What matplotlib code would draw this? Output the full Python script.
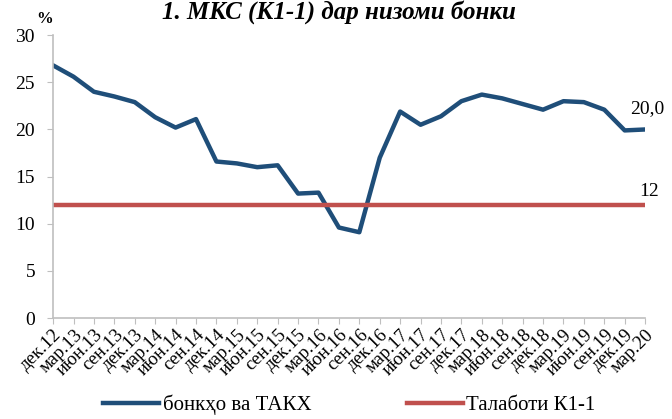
import numpy as np
import matplotlib
matplotlib.use('Agg')
import matplotlib.pyplot as plt

plt.rcParams['font.family'] = ['Liberation Serif', 'DejaVu Serif']

# quarter labels, dec 2012 .. mar 2020
quarters = ['дек.12', 'мар.13', 'июн.13', 'сен.13', 'дек.13', 'мар.14', 'июн.14', 'сен.14',
            'дек.14', 'мар.15', 'июн.15', 'сен.15', 'дек.15', 'мар.16', 'июн.16', 'сен.16',
            'дек.16', 'мар.17', 'июн.17', 'сен.17', 'дек.17', 'мар.18', 'июн.18', 'сен.18',
            'дек.18', 'мар.19', 'июн.19', 'сен.19', 'дек.19', 'мар.20']
banks = [26.8, 25.6, 24.0, 23.5, 22.9, 21.3, 20.2, 21.1,
         16.6, 16.4, 16.0, 16.2, 13.2, 13.3, 9.6, 9.1,
         17.0, 21.9, 20.5, 21.4, 23.0, 23.7, 23.3, 22.7,
         22.1, 23.0, 22.9, 22.1, 19.9, 20.0]
requirement = [12] * len(quarters)

blue = '#1F4E79'
red = '#C0504D'
grey = '#BFBFBF'

fig = plt.figure(figsize=(6.72, 4.19), dpi=100)
ax = fig.add_axes([0.079, 0.241, 0.881, 0.675])

x = np.arange(len(quarters))
ax.plot(x, banks, color=blue, lw=3.2, solid_joinstyle='round', label='бонкҳо ва ТАКХ')
ax.plot(x, requirement, color=red, lw=3.2, label='Талаботи К1-1')

ax.text(x[-1] + 0.1, banks[-1] + 1.3, '20,0', fontsize=14, ha='center', va='bottom')
ax.text(x[-1] + 0.2, requirement[-1] + 0.5, '12', fontsize=14, ha='center', va='bottom')

ax.set_xlim(0, len(quarters) - 1)
ax.set_ylim(0, 30)
ax.set_yticks(range(0, 31, 5))
ax.set_xticks(x)
ax.set_xticklabels(quarters, rotation=45, ha='right', rotation_mode='anchor')
ax.tick_params(axis='x', labelsize=13.5, length=4, color=grey, pad=2)
ax.tick_params(axis='y', labelsize=14, length=4, color=grey, pad=9)

for s in ['top', 'right']:
    ax.spines[s].set_visible(False)
for s in ['left', 'bottom']:
    ax.spines[s].set_color(grey)
    ax.spines[s].set_linewidth(1.2)

fig.text(0.067, 0.955, '%', fontsize=12, fontweight='bold', ha='center', va='center')
fig.text(0.505, 1.0, '1. МКС (К1-1) дар низоми бонки', fontsize=18,
         fontweight='bold', fontstyle='italic', ha='center', va='top')

fig.legend(loc='lower center', bbox_to_anchor=(0.52, -0.035), ncol=2, frameon=False,
           fontsize=15, columnspacing=4.6, handlelength=2.7, handletextpad=0.15)

fig.savefig('out.png', dpi=100)
